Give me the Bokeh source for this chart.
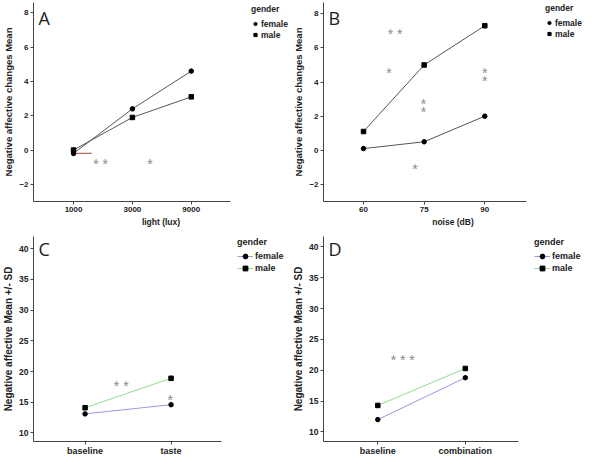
from bokeh.plotting import figure
from bokeh.models import Legend, LegendItem, Label, FixedTicker, Range1d
from bokeh.layouts import column, row
from bokeh.embed import file_html
from bokeh.resources import INLINE
from bokeh.core.properties import value

FONT = "Liberation Sans"

# ---------------- data ----------------
# Panel A
light_levels = ["1000", "3000", "9000"]
female_light = [-0.2, 2.4, 4.6]
male_light = [0.0, 1.9, 3.1]
light_star_x = [0.46, 1.30]
light_star_y = [-0.33, -0.33]
light_star_text = ["* *", "*"]
light_bracket_x = [0.0, 0.31]
light_bracket_y = [-0.2, -0.2]

# Panel B
noise_levels = ["60", "75", "90"]
female_noise = [0.1, 0.5, 2.0]
male_noise = [1.1, 5.0, 7.3]
noise_star_x = [0.52, 0.42, 0.99, 0.99, 2.0, 2.0, 0.85]
noise_star_y = [7.3, 5.0, 3.2, 2.7, 5.0, 4.5, -0.65]
noise_star_text = ["* *", "*", "*", "*", "*", "*", "*"]

# Panel C
taste_conditions = ["baseline", "taste"]
female_taste = [13.1, 14.6]
male_taste = [14.1, 18.9]
taste_star_x = [0.42, 0.99]
taste_star_y = [18.9, 16.7]
taste_star_text = ["* *", "*"]

# Panel D
combo_conditions = ["baseline", "combination"]
female_combo = [12.0, 18.8]
male_combo = [14.3, 20.3]
combo_star_x = [0.285]
combo_star_y = [23.0]
combo_star_text = ["* * *"]

change_ticks = [-2, 0, 2, 4, 6, 8]
sd_ticks = [10, 15, 20, 25, 30, 35, 40]
genders = ["female", "male"]


def make_panel(letter, cats, female, male, xr, yr, yticks, xlabel, ylabel,
               star_x, star_y, star_text, W, borders, colored, legend_offset,
               bracket=None):
    H = 229
    bl, br_axis, bt, bb = borders
    br = 2
    fw_axis = W - bl - br_axis          # width of the visible axis part
    fw, fh = W - bl - br, H - bt - bb   # full frame (legend lives inside)
    x0, x1 = xr
    x_end = x0 + (x1 - x0) * fw / fw_axis
    p = figure(width=W, height=H, output_backend="svg", toolbar_location=None,
               x_range=Range1d(x0, x_end), y_range=Range1d(*yr),
               min_border_left=bl, min_border_right=br,
               min_border_top=bt, min_border_bottom=bb)
    p.outline_line_color = None
    p.grid.visible = False
    p.background_fill_color = "white"
    p.border_fill_color = "white"

    xs = list(range(len(cats)))
    p.xaxis.ticker = FixedTicker(ticks=xs)
    p.xaxis.major_label_overrides = {i: c for i, c in enumerate(cats)}
    p.xaxis.bounds = (x0, x1)
    p.yaxis.ticker = FixedTicker(ticks=yticks)
    p.xaxis.axis_label = xlabel
    p.yaxis.axis_label = ylabel

    tick_size = "8.5px" if colored else "8px"
    for ax in (p.xaxis[0], p.yaxis[0]):
        ax.axis_line_color = "#444444"
        ax.major_tick_line_color = "#444444"
        ax.major_tick_out = 3
        ax.major_tick_in = 0
        ax.minor_tick_line_color = None
        ax.major_label_text_font = FONT
        ax.major_label_text_font_style = "bold"
        ax.major_label_text_font_size = tick_size
        ax.major_label_text_color = "#222222"
        ax.major_label_standoff = 2
        ax.axis_label_text_font = FONT
        ax.axis_label_text_font_style = "bold"
        ax.axis_label_text_color = "#222222"
        ax.axis_label_standoff = 2
    p.xaxis.axis_label_text_font_size = "8.5px"
    p.yaxis.axis_label_text_font_size = "10px" if colored else "9.5px"
    if colored:
        p.xaxis.major_label_text_font_size = "9px"
        p.xaxis.major_label_standoff = 1

    if colored:
        fcol, mcol = "#9a9ae2", "#8edc8e"
    else:
        fcol = mcol = "#555555"

    if bracket is not None:
        p.line(bracket[0], bracket[1], line_color="#a8705f", line_width=1.2)

    lf = p.line(xs, female, line_color=fcol, line_width=1)
    lm = p.line(xs, male, line_color=mcol, line_width=1)
    cf = p.scatter(xs, female, marker="circle", size=4.5, fill_color="black",
                   line_color="black")
    cm = p.scatter(xs, male, marker="square", size=4.5, fill_color="black",
                   line_color="black")

    p.text(star_x, star_y, text=star_text, text_font=value(FONT),
           text_font_size="14px", text_color="#8a8a8a", text_align="center",
           text_baseline="middle", y_offset=8)

    # panel letter
    p.add_layout(Label(x=5, y=fh - 3, x_units="screen", y_units="screen",
                       text=letter, text_font="Open Sans",
                       text_font_size="18px", text_color="#222222",
                       text_baseline="top", text_align="left"))

    if colored:
        items = [LegendItem(label=genders[0], renderers=[lf, cf]),
                 LegendItem(label=genders[1], renderers=[lm, cm])]
        gw, gh, lab_size, tstand = 16, 12, "9px", 3
    else:
        items = [LegendItem(label=genders[0], renderers=[cf]),
                 LegendItem(label=genders[1], renderers=[cm])]
        gw, gh, lab_size, tstand = 8, 11, "8.5px", 4
    off_x, off_top = legend_offset
    leg_h = 10 + tstand + 2 * gh
    leg = Legend(items=items, title="gender",
                 location=(fw_axis + off_x, fh - off_top - leg_h),
                 padding=0, margin=0, spacing=0,
                 glyph_width=gw, glyph_height=gh, label_height=gh,
                 label_standoff=2, title_standoff=tstand,
                 border_line_color=None, background_fill_alpha=0,
                 label_text_font=FONT, label_text_font_style="bold",
                 label_text_font_size=lab_size, label_text_color="#222222",
                 title_text_font=FONT, title_text_font_style="bold",
                 title_text_font_size=lab_size, title_text_color="#222222")
    p.add_layout(leg, "center")
    return p


pA = make_panel("A", light_levels, female_light, male_light, (-0.68, 2.66),
                (-3.0, 8.6), change_ticks, "light (lux)",
                "Negative affective changes Mean",
                light_star_x, light_star_y, light_star_text,
                290, (26, 62, 2, 28), False, (16, 2),
                bracket=(light_bracket_x, light_bracket_y))
pB = make_panel("B", noise_levels, female_noise, male_noise, (-0.66, 2.68),
                (-3.0, 8.66), change_ticks, "noise (dB)",
                "Negative affective changes Mean",
                noise_star_x, noise_star_y, noise_star_text,
                294, (26, 60, 2, 28), False, (14, 1))
pC = make_panel("C", taste_conditions, female_taste, male_taste, (-0.6, 1.59),
                (8.6, 42.0), sd_ticks, "",
                "Negative affective Mean +/- SD",
                taste_star_x, taste_star_y, taste_star_text,
                290, (28, 70, 7, 14), True, (12, 4))
pD = make_panel("D", combo_conditions, female_combo, male_combo, (-0.62, 1.61),
                (8.45, 41.7), sd_ticks, "",
                "Negative affective Mean +/- SD",
                combo_star_x, combo_star_y, combo_star_text,
                294, (28, 67, 7, 14), True, (12, 4))

layout = column(row(pA, pB), row(pC, pD))
open("out.html", "w").write(file_html(layout, INLINE))
